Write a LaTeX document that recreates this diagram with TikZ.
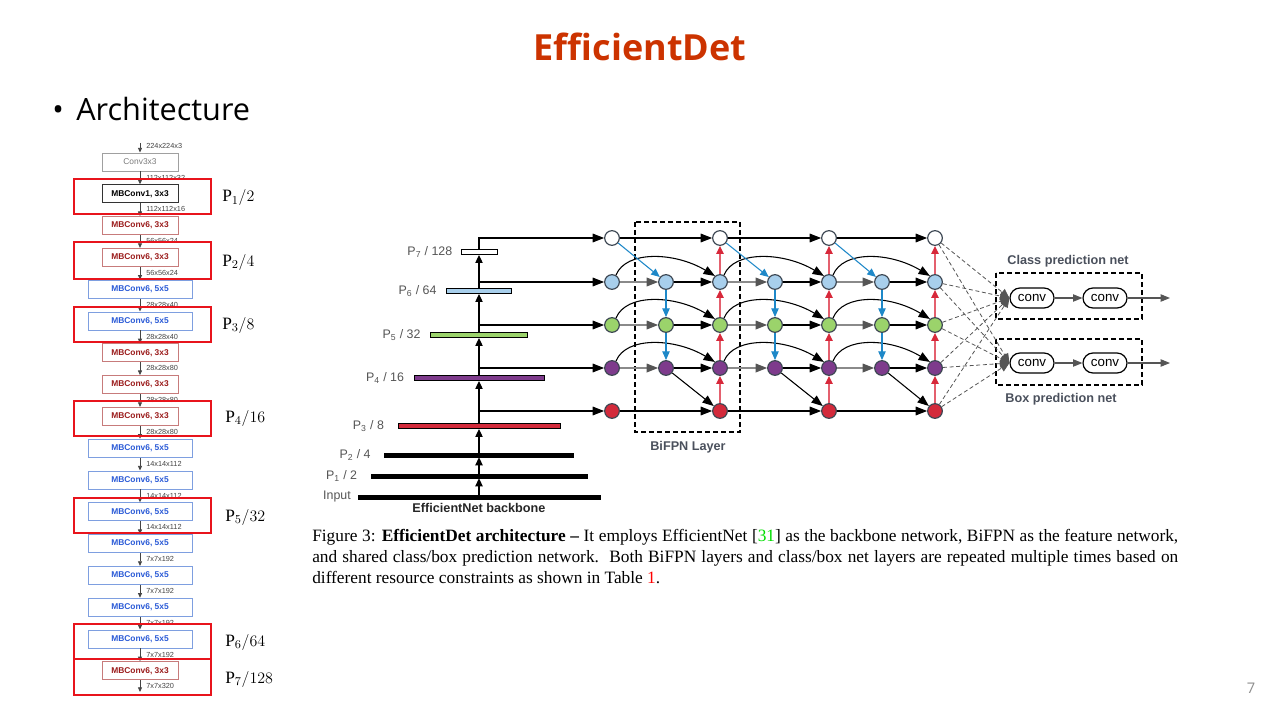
\documentclass[tikz,border=0pt]{standalone}
\usepackage{fontspec}
\setmainfont{Liberation Serif}
\newfontfamily\opensans{Open Sans}
\newfontfamily\arialf{Liberation Sans}
\usetikzlibrary{arrows.meta}
\definecolor{titlered}{HTML}{CC3300}
\definecolor{ndraw}{HTML}{3D4753}
\definecolor{fP7}{HTML}{FFFFFF}
\definecolor{fP6}{HTML}{A8CFEC}
\definecolor{fP5}{HTML}{9BD36B}
\definecolor{fP4}{HTML}{7E3B8C}
\definecolor{fP3}{HTML}{D32A3B}
\definecolor{grayline}{HTML}{8A8A8A}
\definecolor{grayhead}{HTML}{555555}
\definecolor{blueline}{HTML}{1E88C8}
\definecolor{redline}{HTML}{E4606E}
\definecolor{redhead}{HTML}{D7283A}
\definecolor{bbgray}{HTML}{555555}
\definecolor{hgray}{HTML}{4A505C}
\definecolor{convgray}{HTML}{555555}
\definecolor{dashgray}{HTML}{555555}
\definecolor{boxgray}{HTML}{A0A0A0}
\definecolor{textgray}{HTML}{7A7A7A}
\definecolor{kboxd}{HTML}{333333}
\definecolor{rboxd}{HTML}{C77B7B}
\definecolor{rboxt}{HTML}{9A1B1B}
\definecolor{bboxd}{HTML}{7E9FE0}
\definecolor{bboxt}{HTML}{2A5AD6}
\definecolor{dimgray}{HTML}{444444}
\definecolor{frred}{HTML}{E8141C}
\definecolor{pgray}{HTML}{8C8C8C}
\definecolor{citegreen}{HTML}{00DD00}
\definecolor{capred}{HTML}{FF0000}
\begin{document}
\begin{tikzpicture}[x=0.75pt,y=-0.75pt,
  fn/.style={circle,draw=ndraw,line width=0.9pt,minimum size=11pt,inner sep=0pt},
  blk/.style={draw=black,line width=0.8pt,-{Triangle[length=8.5pt,width=6.5pt]}},
  gry/.style={draw=grayline,line width=0.9pt,-{Triangle[length=8.5pt,width=6.5pt,color=grayhead]}},
  blu/.style={draw=blueline,line width=0.8pt,-{Triangle[length=6.5pt,width=5.5pt]}},
  rdl/.style={draw=redline,line width=1pt,-{Triangle[length=6pt,width=5.5pt,color=redhead]}},
  barbox/.style={draw=black,line width=0.7pt,inner sep=0pt,minimum height=3.75pt},
  kbar/.style={fill=black,draw=black,inner sep=0pt,minimum height=3pt},
  tar/.style={draw=black,line width=0.8pt,-{Triangle[length=6pt,width=5.5pt]}},
  bblab/.style={font=\arialf\fontsize{9.3}{10}\selectfont,text=bbgray,inner sep=0pt,anchor=east},
  hlab/.style={font=\arialf\bfseries\fontsize{9.5}{11}\selectfont,text=hgray,inner sep=0pt},
  convbox/.style={draw=black,line width=0.9pt,rounded corners=7.5pt,minimum width=33pt,minimum height=15pt,inner sep=0pt,font=\arialf\fontsize{10}{12}\selectfont},
  garr/.style={draw=convgray,line width=0.8pt,-{Triangle[length=7pt,width=5.5pt]}},
  dsh/.style={draw=dashgray,line width=0.6pt,dash pattern=on 3pt off 2pt,-{Triangle[length=7pt,width=6pt]}},
  dbox/.style={draw=black,line width=0.9pt,dash pattern=on 3.5pt off 2.5pt},
  lbox/.style={draw,line width=0.7pt,inner sep=0pt,minimum height=13.5pt,font=\arialf\bfseries\fontsize{6.3}{7}\selectfont},
  gbox/.style={lbox,draw=boxgray,text=textgray,minimum width=57pt,font=\arialf\fontsize{6.3}{7}\selectfont},
  kbox/.style={lbox,draw=kboxd,text=black,minimum width=57pt},
  rbox/.style={lbox,draw=rboxd,text=rboxt,minimum width=57pt},
  bbox/.style={lbox,draw=bboxd,text=bboxt,minimum width=78pt},
  dimlab/.style={font=\arialf\fontsize{5.5}{6}\selectfont,text=dimgray,anchor=west,inner sep=0pt},
  sarr/.style={draw=dimgray,line width=0.6pt,-{Triangle[length=3.5pt,width=3pt]}},
  rframe/.style={draw=frred,line width=1.5pt},
  plab/.style={anchor=west,inner sep=0pt,font=\fontsize{13}{15}\selectfont},
  captxt/.style={anchor=base west,inner sep=0pt,font=\fontsize{13}{15}\selectfont}
]
\useasboundingbox (0,0) rectangle (1280,720);

% ---------- title ----------
\node[font=\opensans\bfseries\fontsize{27}{32}\selectfont,text=titlered] (title) at (640,47) {EfficientDet};
\node[anchor=base west,inner sep=0pt,font=\opensans\fontsize{23}{28}\selectfont] (bul) at (52,121) {•};
\node[anchor=base west,inner sep=0pt,font=\opensans\fontsize{23}{28}\selectfont] (arch) at (76,121) {Architecture};
\node[font=\opensans\fontsize{11}{12}\selectfont,text=pgray] (pg) at (1251,688) {7};

% ---------- left column ----------
\coordinate (topin) at (140,143);
\node[dimlab] (Dtop) at (146,146) {224x224x3};
\foreach \i/\t/\s/\d in {0/Conv3x3/gbox/112x112x32, 1/{MBConv1, 3x3}/kbox/112x112x16,
  2/{MBConv6, 3x3}/rbox/56x56x24, 3/{MBConv6, 3x3}/rbox/56x56x24,
  4/{MBConv6, 5x5}/bbox/28x28x40, 5/{MBConv6, 5x5}/bbox/28x28x40,
  6/{MBConv6, 3x3}/rbox/28x28x80, 7/{MBConv6, 3x3}/rbox/28x28x80, 8/{MBConv6, 3x3}/rbox/28x28x80,
  9/{MBConv6, 5x5}/bbox/14x14x112, 10/{MBConv6, 5x5}/bbox/14x14x112, 11/{MBConv6, 5x5}/bbox/14x14x112,
  12/{MBConv6, 5x5}/bbox/7x7x192, 13/{MBConv6, 5x5}/bbox/7x7x192, 14/{MBConv6, 5x5}/bbox/7x7x192,
  15/{MBConv6, 5x5}/bbox/7x7x192, 16/{MBConv6, 3x3}/rbox/7x7x320}{
  \pgfmathsetmacro\yy{162+31.8*\i}
  \node[\s] (L\i) at (140,\yy) {\t};
  \node[dimlab] (D\i) at (146,\yy+15.5) {\d};
}
\draw[sarr] (topin) -- (L0.north);
\foreach \i [evaluate=\i as \j using int(\i+1)] in {0,...,15}
  \draw[sarr] (L\i.south) -- (L\j.north);
\coordinate (botout) at (140,692);
\draw[sarr] (L16.south) -- (botout);

\draw[rframe] (74,179) rectangle (211,214);
\draw[rframe] (74,242) rectangle (211,279);
\draw[rframe] (74,307) rectangle (211,342);
\draw[rframe] (74,401) rectangle (211,436);
\draw[rframe] (74,498) rectangle (211,533);
\draw[rframe] (74,624) rectangle (211,659);
\draw[rframe] (74,659) rectangle (211,695);

\node[plab] (p1) at (222,198) {$\mathrm{P}_1/2$};
\node[plab] (p2) at (222,262) {$\mathrm{P}_2/4$};
\node[plab] (p3) at (222,325) {$\mathrm{P}_3/8$};
\node[plab] (p4) at (225,418) {$\mathrm{P}_4/16$};
\node[plab] (p5) at (225,517) {$\mathrm{P}_5/32$};
\node[plab] (p6) at (225,642) {$\mathrm{P}_6/64$};
\node[plab] (p7) at (225,679) {$\mathrm{P}_7/128$};

% ---------- backbone ----------
\node[kbar,minimum width=242*0.75pt] (bIn) at (479,497) {};
\node[kbar,minimum width=216*0.75pt] (b1) at (479,476) {};
\node[kbar,minimum width=189*0.75pt] (b2) at (479,455) {};
\node[barbox,fill=fP3,minimum width=162*0.75pt] (b3) at (479,426) {};
\node[barbox,fill=fP4,minimum width=130*0.75pt] (b4) at (479,378) {};
\node[barbox,fill=fP5,minimum width=97*0.75pt] (b5) at (479,335) {};
\node[barbox,fill=fP6,minimum width=65*0.75pt] (b6) at (479,291) {};
\node[barbox,fill=fP7,minimum width=36*0.75pt] (b7) at (479,252) {};

\node[bblab] (lIn) at ([xshift=-5pt]bIn.west) {Input};
\node[bblab] (l1) at ([xshift=-10pt]b1.west) {P\textsubscript{1} / 2};
\node[bblab] (l2) at ([xshift=-10pt]b2.west) {P\textsubscript{2} / 4};
\node[bblab] (l3) at ([xshift=-10pt]b3.west) {P\textsubscript{3} / 8};
\node[bblab] (l4) at ([xshift=-7pt]b4.west) {P\textsubscript{4} / 16};
\node[bblab] (l5) at ([xshift=-7pt]b5.west) {P\textsubscript{5} / 32};
\node[bblab] (l6) at ([xshift=-7pt]b6.west) {P\textsubscript{6} / 64};
\node[bblab] (l7) at ([xshift=-6pt]b7.west) {P\textsubscript{7} / 128};
\node[font=\arialf\bfseries\fontsize{9.5}{11}\selectfont,text=black!85,inner sep=0pt] (bbl) at (479,508) {EfficientNet backbone};

\draw[tar] (bIn.north) -- (b1.south);
\draw[tar] (b1.north) -- (b2.south);
\draw[tar] (b2.north) -- (b3.south);
\draw[tar] (b3.north) -- (b4.south);
\draw[tar] (b4.north) -- (b5.south);
\draw[tar] (b5.north) -- (b6.south);
\draw[tar] (b6.north) -- (b7.south);

% ---------- BiFPN ----------
\draw[dbox] (635,222) rectangle (740,432);
\node[hlab] (bifpn) at (688,447) {BiFPN Layer};

\foreach \c/\x in {1/612,3/720,5/829,7/935}{
  \foreach \r/\y in {7/238,6/282,5/325,4/368,3/411}
    \node[fn,fill=fP\r] (n\c-\r) at (\x,\y) {};
}
\foreach \c/\x in {2/666,4/775,6/882}{
  \foreach \r/\y in {6/282,5/325,4/368}
    \node[fn,fill=fP\r] (n\c-\r) at (\x,\y) {};
}

\coordinate (t6) at (479,282);
\coordinate (t5) at (479,325);
\coordinate (t4) at (479,368);
\coordinate (t3) at (479,411);
\draw[blk] (b7.north) |- (n1-7);
\draw[blk] (t6) -- (n1-6);
\draw[blk] (t5) -- (n1-5);
\draw[blk] (t4) -- (n1-4);
\draw[blk] (t3) -- (n1-3);

\foreach \a/\b/\c in {1/2/3,3/4/5,5/6/7}{
  \foreach \r in {6,5,4}
    \draw[blk] (n\a-\r.60) .. controls +(10,-25) and +(-40,-24) .. (n\c-\r.130);
  \draw[blk] (n\a-7) -- (n\c-7);
  \draw[blu] (n\a-7) -- (n\b-6);
  \draw[gry] (n\a-6) -- (n\b-6);
  \draw[gry] (n\a-5) -- (n\b-5);
  \draw[gry] (n\a-4) -- (n\b-4);
  \draw[blu] (n\b-6) -- (n\b-5);
  \draw[blu] (n\b-5) -- (n\b-4);
  \draw[blk] (n\b-6) -- (n\c-6);
  \draw[blk] (n\b-5) -- (n\c-5);
  \draw[blk] (n\b-4) -- (n\c-4);
  \draw[blk] (n\b-4) -- (n\c-3);
  \draw[blk] (n\a-3) -- (n\c-3);
  \draw[rdl] (n\c-3) -- (n\c-4);
  \draw[rdl] (n\c-4) -- (n\c-5);
  \draw[rdl] (n\c-5) -- (n\c-6);
  \draw[rdl] (n\c-6) -- (n\c-7);
}

% ---------- prediction nets ----------
\draw[dbox] (996,273) rectangle (1142,319);
\draw[dbox] (996,339) rectangle (1142,385);
\node[hlab] (clsl) at (1068,261) {Class prediction net};
\node[hlab] (boxl) at (1061,399) {Box prediction net};
\node[convbox] (c1) at (1032,298) {conv};
\node[convbox] (c2) at (1105,298) {conv};
\node[convbox] (c3) at (1032,363) {conv};
\node[convbox] (c4) at (1105,363) {conv};
\coordinate (o1) at (1170,298);
\coordinate (o2) at (1170,363);
\draw[garr] (c1) -- (c2);
\draw[garr] (c2) -- (o1);
\draw[garr] (c3) -- (c4);
\draw[garr] (c4) -- (o2);
\foreach \r in {7,6,5,4,3}{
  \draw[dsh] (n7-\r) -- (c1.west);
  \draw[dsh] (n7-\r) -- (c3.west);
}

% ---------- caption ----------
\node[captxt] (cap1) at (312,541) {\makebox[649.5pt][s]{Figure 3: \textbf{EfficientDet architecture --} It employs EfficientNet [\textcolor{citegreen}{31}] as the backbone network, BiFPN as the feature network,}};
\node[captxt] (cap2) at (312,562) {\makebox[649.5pt][s]{and shared class/box prediction network.\ \ Both BiFPN layers and class/box net layers are repeated multiple times based on}};
\node[captxt] (cap3) at (312,583) {different resource constraints as shown in Table \textcolor{capred}{1}.};
\end{tikzpicture}
\end{document}
